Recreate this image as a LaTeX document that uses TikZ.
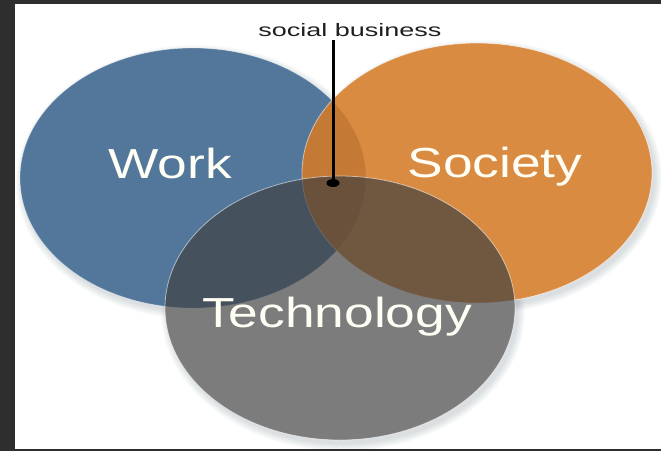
\documentclass[tikz,border=0pt]{standalone}
\usepackage{fontspec}
\setmainfont{Liberation Sans}
\newfontfamily\bigfont[FakeStretch=1.27]{Liberation Sans}
\newfontfamily\smallfont[FakeStretch=1.5]{Liberation Sans}
\usetikzlibrary{shapes.geometric}
\definecolor{framecol}{HTML}{2E2E2E}
\definecolor{workblue}{RGB}{82,119,155}
\definecolor{socorange}{RGB}{213,122,38}
\definecolor{techgray}{RGB}{63,63,63}
\definecolor{shadowcol}{RGB}{70,85,110}
\begin{document}
\begin{tikzpicture}[x=1pt,y=-1pt,
  vennshape/.style={ellipse, inner sep=0pt, minimum width=#1},
  softshadow/.style={fill=shadowcol, opacity=0.025},
  edge line/.style={draw=white, draw opacity=0.55, line width=0.8pt},
  bigtext/.style={text=white!96!yellow, font=\bigfont\fontsize{42}{42}\selectfont, anchor=base, inner sep=0pt},
  smalltext/.style={text=black!88, font=\smallfont\fontsize{18}{18}\selectfont, anchor=base, inner sep=0pt},
  dotmark/.style={ellipse, fill=black, inner sep=0pt, minimum width=13pt, minimum height=8pt}
]
\useasboundingbox (0,0) rectangle (661,451);
\fill[framecol] (0,0) rectangle (661,451);
\fill[white] (15,4) rectangle (661,449);

% soft shadows
\foreach \k in {0,...,7}{
  \fill[softshadow] (196,182) ellipse [x radius={173pt+\k*1pt}, y radius={130pt+\k*1pt}];
  \fill[softshadow] (480,177) ellipse [x radius={175pt+\k*1pt}, y radius={130pt+\k*1pt}];
  \fill[softshadow] (343,312) ellipse [x radius={175pt+\k*1pt}, y radius={132pt+\k*1pt}];
}
\fill[white] (193,178) ellipse [x radius=173pt, y radius=130pt];
\fill[white] (477,173) ellipse [x radius=175pt, y radius=130pt];
\fill[white] (340,308) ellipse [x radius=175pt, y radius=132pt];

% circles
\node[vennshape=346pt, minimum height=260pt, fill=workblue, edge line, draw opacity=0.3] (work) at (193,178) {};
\node[vennshape=350pt, minimum height=260pt, fill=socorange, fill opacity=0.87, edge line] (society) at (477,173) {};
\node[vennshape=350pt, minimum height=264pt, fill=techgray, fill opacity=0.68, edge line] (tech) at (340,308) {};

% labels
\node[bigtext] (worklbl) at (170,178) {Work};
\node[bigtext] (soclbl) at (495,177) {Society};
\node[bigtext] (techlbl) at (337,327) {Technology};
\node[smalltext] (sb) at (350,36) {social business};

% pointer
\coordinate (ptop) at (333,40);
\node[dotmark] (dot) at (333,183) {};
\draw[line width=3pt, black] (ptop) -- (dot.center);
\end{tikzpicture}
\end{document}
